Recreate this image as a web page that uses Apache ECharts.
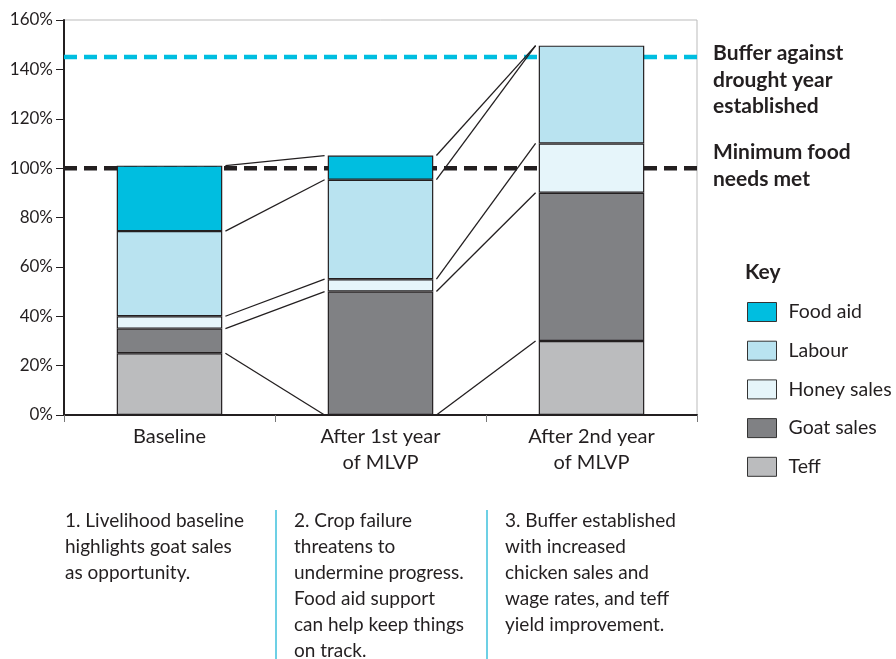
<!DOCTYPE html>
<html><head><meta charset="utf-8">
<script src="https://cdn.jsdelivr.net/npm/echarts@6/dist/echarts.min.js"></script>
<style>html,body{margin:0;padding:0;background:#fff}#c{width:896px;height:659px}</style>
</head><body><div id="c"></div>
<script>
var categories = ['Baseline', 'After 1st year\nof MLVP', 'After 2nd year\nof MLVP'];
var teff = [25, 0, 30];
var goatSales = [10, 50, 60];
var honeySales = [5, 5, 20];
var labour = [34.5, 40.3, 39.6];
var foodAid = [26.5, 9.8, 0];
var minimumFood = 100;
var bufferLevel = 145;
var yTicks = [0, 20, 40, 60, 80, 100, 120, 140, 160];
var seriesNames = ['Teff', 'Goat sales', 'Honey sales', 'Labour', 'Food aid'];
var legendOrder = ['Food aid', 'Labour', 'Honey sales', 'Goat sales', 'Teff'];
var notes = [
  '1. Livelihood baseline\nhighlights goat sales\nas opportunity.',
  '2. Crop failure\nthreatens to\nundermine progress.\nFood aid support\ncan help keep things\non track.',
  '3. Buffer established\nwith increased\nchicken sales and\nwage rates, and teff\nyield improvement.'
];
var bufferLabel = 'Buffer against\ndrought year\nestablished';
var minLabel = 'Minimum food\nneeds met';

var FONT = 'Lato';
var colors = ['#bbbcbe', '#808184', '#e6f5fa', '#b9e3f0', '#00bee0'];
var stacks = [teff, goatSales, honeySales, labour, foodAid];

var series = [];
stacks.forEach(function (arr, k) {
  series.push({
    name: seriesNames[k], type: 'bar', stack: 'total', barWidth: '50%', z: 3,
    data: arr.map(function (v) { return v === 0 ? '-' : v; }),
    itemStyle: { color: colors[k], borderColor: '#231f20', borderWidth: 1.2 },
    emphasis: { disabled: true }
  });
});

[[bufferLevel, '#00bee0'], [minimumFood, '#231f20']].forEach(function (p) {
  series.push({
    type: 'line', xAxisIndex: 1, z: 1, symbol: 'none', silent: true,
    data: [[-0.5, p[0]], [2.5, p[0]]],
    lineStyle: { color: p[1], width: 4.5, type: [13, 7] }
  });
});

var cum = categories.map(function (_, i) {
  var s = 0; return stacks.map(function (arr) { s += arr[i]; return s; });
});
for (var i = 0; i < categories.length - 1; i++) {
  for (var k = 0; k < stacks.length; k++) {
    series.push({
      type: 'line', xAxisIndex: 1, z: 4, symbol: 'none', silent: true,
      data: [[i + 0.265, cum[i][k]], [i + 1 - 0.265, cum[i + 1][k]]],
      lineStyle: { color: '#231f20', width: 1.3 }
    });
  }
}

var graphics = [
  { type: 'text', left: 713, top: 40, style: { text: bufferLabel, font: 'bold 21px ' + FONT, fill: '#231f20', lineHeight: 26.5 } },
  { type: 'text', left: 713, top: 139, style: { text: minLabel, font: 'bold 21px ' + FONT, fill: '#231f20', lineHeight: 26.5 } },
  { type: 'text', left: 745, top: 262, style: { text: 'Key', font: 'bold 21px ' + FONT, fill: '#231f20' } },
  { type: 'line', shape: { x1: 276, y1: 510, x2: 276, y2: 659 }, style: { stroke: '#3cc0dc', lineWidth: 1.5 } },
  { type: 'line', shape: { x1: 487, y1: 510, x2: 487, y2: 659 }, style: { stroke: '#3cc0dc', lineWidth: 1.5 } }
];
var noteX = [65, 294, 505];
notes.forEach(function (t, j) {
  graphics.push({ type: 'text', left: noteX[j], top: 508, style: { text: t, font: '19px ' + FONT, fill: '#231f20', lineHeight: 26 } });
});

var chart = echarts.init(document.getElementById('c'), null, { renderer: 'canvas' });
chart.setOption({
  animation: false,
  backgroundColor: '#fff',
  grid: { left: 64, right: 199, top: 20, bottom: 244, show: true, borderColor: '#bbbbbb', borderWidth: 1 },
  legend: {
    data: legendOrder, orient: 'vertical', left: 742, top: 297,
    itemWidth: 29, itemHeight: 19, itemGap: 18.7, icon: 'rect', selectedMode: false,
    itemStyle: { borderColor: '#333', borderWidth: 1 },
    textStyle: { fontFamily: FONT, fontSize: 19.5, color: '#231f20', padding: [0, 0, 0, 7] }
  },
  xAxis: [{
    type: 'category', data: categories,
    axisLine: { lineStyle: { color: '#231f20', width: 2 } },
    axisTick: { show: true, length: 7, lineStyle: { color: '#777' } },
    axisLabel: { fontFamily: FONT, fontSize: 20, color: '#231f20', margin: 9, lineHeight: 26 },
    splitLine: { show: false }
  }, {
    type: 'value', min: -0.5, max: 2.5, show: false
  }],
  yAxis: {
    type: 'value', min: yTicks[0], max: yTicks[yTicks.length - 1], interval: yTicks[1] - yTicks[0],
    axisLine: { show: true, onZero: false, lineStyle: { color: '#231f20', width: 2 } },
    axisTick: { show: true, length: 8, lineStyle: { color: '#231f20' } },
    axisLabel: { formatter: '{value}%', fontFamily: FONT, fontSize: 17, color: '#231f20', margin: 11 },
    splitLine: { show: false }
  },
  graphic: graphics,
  series: series
});
</script></body></html>
